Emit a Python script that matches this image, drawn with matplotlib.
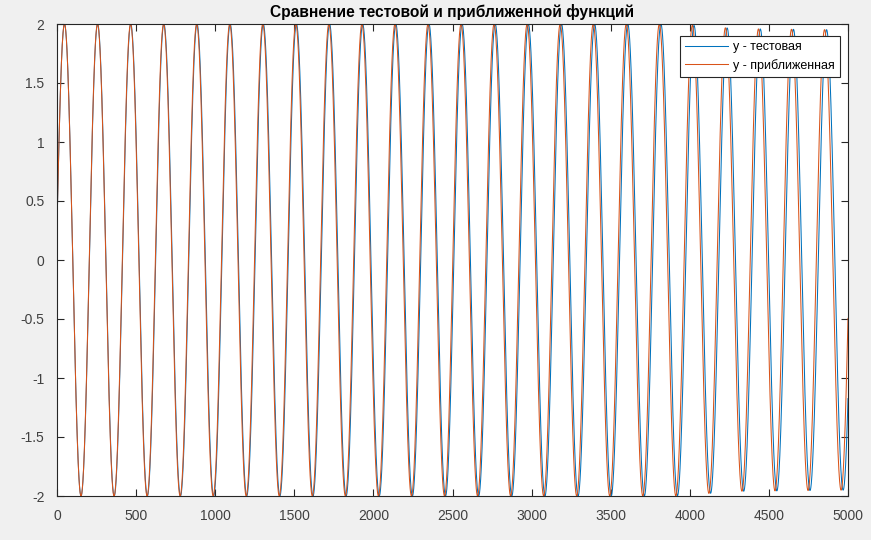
import numpy as np
import matplotlib
matplotlib.use("Agg")
import matplotlib.pyplot as plt

# ---- data ----
title_text = "Сравнение тестовой и приближенной функций"
legend_labels = ["y - тестовая", "y - приближенная"]
x_range = [0, 5000]
x_ticks = [0, 500, 1000, 1500, 2000, 2500, 3000, 3500, 4000, 4500, 5000]
y_ticks = [-2, -1.5, -1, -0.5, 0, 0.5, 1, 1.5, 2]
y_tick_labels = ["-2", "-1.5", "-1", "-0.5", "0", "0.5", "1", "1.5", "2"]

# oscillation parameters (estimated from peak positions in the picture)
test_omega = 0.03
test_phase = 0.15
approx_omega = 0.030078
approx_phase = 0.15
# amplitude envelope (slight drop near the end)
amp_knots_x = [0, 3900, 4300, 5000]
test_amp_knots = [2.0, 2.0, 1.96, 1.95]
approx_amp_knots = [2.0, 2.0, 1.96, 1.95]

x = np.arange(x_range[0], x_range[1] + 1, 1.0)
y_test = np.interp(x, amp_knots_x, test_amp_knots) * np.sin(test_omega * x + test_phase)
y_approx = np.interp(x, amp_knots_x, approx_amp_knots) * np.sin(approx_omega * x + approx_phase)

# ---- plotting ----
plt.rcParams['font.family'] = ['Liberation Sans', 'DejaVu Sans']
fig = plt.figure(figsize=(8.71, 5.40), dpi=100, facecolor='#f0f0f0')
ax = fig.add_axes([57/871, 1 - 496/540, (848 - 57)/871, (496 - 24)/540])
ax.set_facecolor('white')

ax.plot(x, y_test, color='#0072BD', lw=0.75, label=legend_labels[0])
ax.plot(x, y_approx, color='#D95319', lw=0.75, label=legend_labels[1])

ax.set_xlim(x_range)
ax.set_ylim(-2, 2)
ax.set_xticks(x_ticks)
ax.set_xticklabels([str(t) for t in x_ticks])
ax.set_yticks(y_ticks)
ax.set_yticklabels(y_tick_labels)

tick_color = '#262626'
ax.tick_params(axis='both', direction='in', length=5, width=0.8, colors=tick_color,
               labelsize=10, top=True, right=True)
ax.tick_params(axis='x', pad=9)
ax.tick_params(axis='y', pad=9)
for lab in ax.get_xticklabels() + ax.get_yticklabels():
    lab.set_color('#404040')
for sp in ax.spines.values():
    sp.set_color(tick_color)
    sp.set_linewidth(0.8)

ax.set_title(title_text, fontsize=11.2, fontweight='bold', color='black', pad=5)

leg = ax.legend(loc='upper right', fontsize=9, frameon=True, fancybox=False,
                edgecolor=tick_color, framealpha=1, handlelength=3.5,
                bbox_to_anchor=(840/871, 1 - 36/540), bbox_transform=fig.transFigure,
                borderaxespad=0, labelspacing=0.45, handletextpad=0.4,
                borderpad=0.4)
leg.get_frame().set_linewidth(0.8)

fig.savefig("out.png", dpi=100, facecolor=fig.get_facecolor())
